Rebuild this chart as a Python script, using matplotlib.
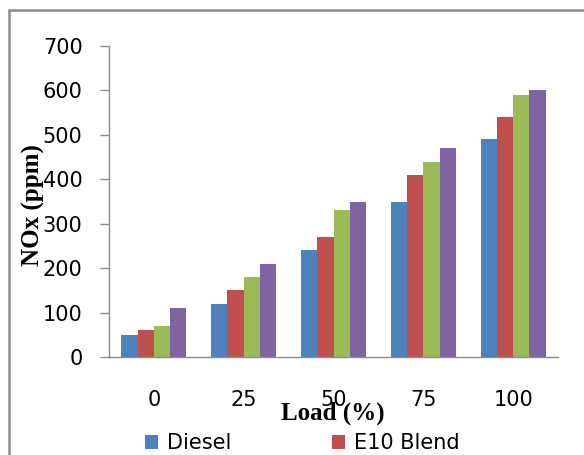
import matplotlib.pyplot as plt
import numpy as np
from matplotlib.patches import Rectangle

loads = ['0', '25', '50', '75', '100']
series_names = ['Diesel', 'E10 Blend', 'E15 Blend', 'E20 Blend']
diesel = [50, 120, 240, 350, 490]
e10 = [60, 150, 270, 410, 540]
e15 = [70, 180, 330, 440, 590]
e20 = [110, 210, 350, 470, 600]
colors = ['#4F81BD', '#C0504D', '#9BBB59', '#8064A2']

W, H = 584, 455
fig = plt.figure(figsize=(W / 100, H / 100), dpi=100)
ax = fig.add_axes([109 / W, (H - 357) / H, 449 / W, 311 / H])

x = np.arange(len(loads))
width = 0.181
bars = []
for i, (vals, name, c) in enumerate(zip([diesel, e10, e15, e20], series_names, colors)):
    bars.append(ax.bar(x + (i - 1.5) * width, vals, width, color=c, label=name))

ax.set_xlim(-0.5, len(loads) - 0.5)
ax.set_ylim(0, 700)
ax.set_yticks(range(0, 701, 100))
ax.set_xticks(x)
ax.set_xticklabels(loads)

for s in ['top', 'right']:
    ax.spines[s].set_visible(False)
for s in ['left', 'bottom']:
    ax.spines[s].set_color('#8c8c8c')
    ax.spines[s].set_linewidth(1.0)
ax.tick_params(axis='y', colors='#8c8c8c', length=6.5, width=1.0, labelsize=15,
               labelcolor='black', pad=12.5)
ax.tick_params(axis='x', length=0, labelsize=15, pad=24)

ax.set_ylabel('NOx (ppm)', family='Liberation Serif', fontweight='bold', fontsize=18)
ax.set_xlabel('Load (%)', family='Liberation Serif', fontweight='bold', fontsize=18)
ax.yaxis.set_label_coords(33 / W, (H - 205) / H, transform=fig.transFigure)
ax.xaxis.set_label_coords(333 / W, (H - 413) / H, transform=fig.transFigure)
ax.xaxis.label.set_va('center')
ax.yaxis.label.set_va('center')

# column-major fill: put Diesel and E10 Blend on the first row
order = [0, 2, 1, 3]
ax.legend([bars[k] for k in order], [series_names[k] for k in order],
          loc='upper left', bbox_to_anchor=(136.6 / W, (H - 425) / H),
          bbox_transform=fig.transFigure, ncol=2, frameon=False,
          fontsize=15, handlelength=0.65, handleheight=0.65, handletextpad=0.4,
          columnspacing=2.85, borderaxespad=0)

fig.patches.append(Rectangle((9 / W, -0.1), 1.2, 1 - 10 / H + 0.1,
                             transform=fig.transFigure, fill=False,
                             edgecolor='#8c8c8c', linewidth=1.8))

fig.savefig('out.png', dpi=100)
